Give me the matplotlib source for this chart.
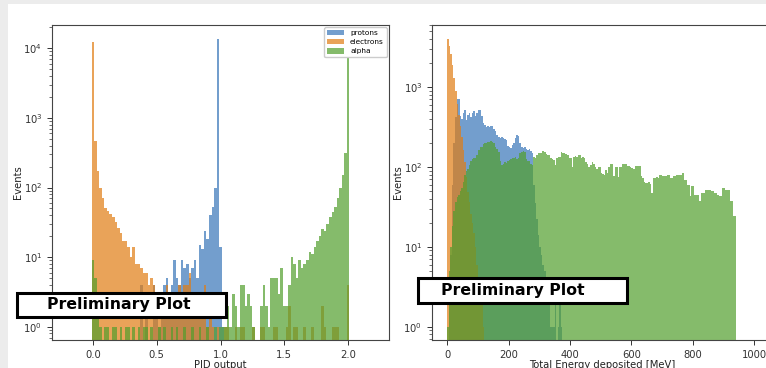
import numpy as np
import matplotlib
matplotlib.use('Agg')
import matplotlib.pyplot as plt
from matplotlib.patches import Rectangle

# ---- PID output histogram (bins of 0.02 centred on 0.00 ... 2.00) ----
PID_BIN = 0.02
protons_pid = [
    0, 0, 0, 0, 0, 0, 0, 0, 0, 0,
    0, 0, 0, 0, 0, 0, 0, 0, 0, 4,
    0, 2, 0, 0, 4, 2, 1, 3, 4, 5,
    2, 4, 9, 5, 4, 9, 7, 8, 5, 7,
    9, 5, 15, 13, 24, 18, 40, 52, 97, 13500,
    14, 1, 0, 0, 0, 0, 0, 0, 0, 0,
    0, 0, 0, 0, 0, 0, 0, 0, 0, 0,
    0, 0, 0, 0, 0, 0, 0, 0, 0, 0,
    0, 0, 0, 0, 0, 0, 0, 0, 0, 0,
    0, 0, 0, 0, 0, 0, 0, 0, 0, 0,
    0,
]
electrons_pid = [
    12400, 460, 170, 100, 70, 50, 46, 42, 38, 32,
    26, 22, 17, 17, 14, 10, 14, 8, 8, 7,
    6, 6, 4, 5, 4, 3, 2, 3, 2, 4,
    3, 3, 2, 3, 4, 3, 4, 4, 6, 3,
    3, 2, 2, 3, 4, 1, 2, 1, 0, 1,
    0, 0, 1, 1, 0, 0, 1, 0, 1, 1,
    0, 0, 0, 1, 0, 0, 1, 1, 0, 0,
    0, 1, 1, 0, 0, 0, 1, 2, 0, 1,
    1, 0, 0, 1, 0, 0, 1, 0, 0, 0,
    2, 1, 0, 0, 1, 1, 1, 0, 0, 0,
    4,
]
alpha_pid = [
    9, 5, 2, 1, 0, 1, 1, 0, 1, 1,
    0, 1, 0, 1, 1, 0, 1, 0, 1, 0,
    1, 1, 0, 1, 0, 0, 1, 0, 1, 0,
    0, 1, 0, 1, 0, 0, 1, 0, 0, 1,
    0, 0, 1, 0, 0, 1, 0, 0, 1, 0,
    1, 1, 1, 2, 1, 3, 2, 1, 4, 4,
    2, 3, 2, 1, 0, 0, 2, 4, 2, 1,
    5, 5, 5, 3, 7, 2, 2, 4, 10, 8,
    5, 9, 7, 8, 9, 12, 11, 14, 17, 20,
    25, 24, 30, 38, 45, 53, 70, 97, 150, 316,
    10000,
]

# ---- Total energy deposited histogram (5 MeV bins starting at 0) ----
E_BIN = 5.0
protons_energy = [
    0, 2, 8, 60, 200, 420, 720, 700, 440, 400,
    480, 510, 390, 450, 470, 420, 480, 500, 430, 480,
    510, 520, 430, 360, 340, 320, 330, 320, 325, 330,
    300, 280, 250, 240, 230, 240, 232, 225, 215, 185,
    180, 175, 190, 200, 230, 255, 245, 200, 180, 175,
    178, 170, 165, 168, 160, 150, 60, 35, 22, 14,
    10, 8, 6, 5, 3, 2, 2, 1, 1, 1,
    2, 0, 1, 2, 1,
]
electrons_energy = [
    4000, 3300, 2600, 1900, 1300, 900, 620, 450, 330, 240,
    165, 115, 75, 48, 36, 26, 20, 15, 10, 6,
    4, 3, 2, 1,
]
alpha_energy = [
    1, 5, 10, 18, 28, 36, 42, 45, 50, 55,
    65, 80, 90, 95, 105, 120, 125, 130, 128, 140,
    165, 178, 180, 195, 200, 198, 205, 208, 212, 205,
    200, 180, 170, 155, 120, 105, 110, 115, 112, 118,
    122, 125, 128, 130, 132, 125, 130, 150, 156, 160,
    152, 125, 120, 118, 110, 105, 135, 130, 140, 150,
    148, 150, 158, 156, 145, 140, 142, 130, 125, 123,
    106, 128, 132, 135, 156, 150, 148, 145, 140, 130,
    128, 101, 135, 138, 135, 140, 142, 130, 132, 128,
    114, 110, 101, 106, 114, 108, 101, 95, 101, 100,
    84, 82, 80, 92, 84, 101, 109, 110, 76, 101,
    101, 74, 101, 101, 109, 108, 109, 104, 104, 100,
    97, 95, 104, 104, 102, 104, 78, 72, 65, 63,
    63, 64, 62, 47, 72, 72, 74, 72, 80, 80,
    76, 76, 76, 80, 80, 72, 72, 76, 76, 80,
    80, 80, 80, 84, 69, 69, 60, 60, 43, 57,
    57, 45, 45, 45, 37, 47, 47, 47, 52, 52,
    52, 52, 50, 50, 47, 47, 45, 43, 43, 55,
    55, 52, 52, 52, 37, 37, 24, 24,
]

LABELS = ['protons', 'electrons', 'alpha']
COLORS = ['#3875b8', '#e17c13', '#529e2d']
ALPHA = 0.7


def centered_edges(n, width):
    # bins centred on 0, width, 2*width, ...
    return np.arange(n + 1) * width - width / 2


def left_edges(n, width):
    return np.arange(n + 1) * width


def style_axis(ax):
    for sp in ax.spines.values():
        sp.set_color('#444444')
        sp.set_linewidth(0.8)
    ax.tick_params(axis='both', which='major', labelsize=7.2, length=3.5,
                   width=0.7, colors='#333333')
    ax.tick_params(axis='y', which='minor', length=2, width=0.5,
                   colors='#333333')


fig = plt.figure(figsize=(7.66, 3.68), dpi=100)
fig.patch.set_facecolor('white')

W, H = 766.0, 368.0
ax1 = fig.add_axes([52 / W, 1 - 340 / H, (389 - 52) / W, (340 - 25) / H])
ax2 = fig.add_axes([432 / W, 1 - 340 / H, (772 - 432) / W, (340 - 25) / H])

# left panel: PID output
pid_series = [protons_pid, electrons_pid, alpha_pid]
for counts, lab, col in zip(pid_series, LABELS, COLORS):
    counts = np.asarray(counts, dtype=float)
    edges = centered_edges(len(counts), PID_BIN)
    centers = 0.5 * (edges[:-1] + edges[1:])
    ax1.hist(centers, bins=edges, weights=counts, color=col, alpha=ALPHA,
             label=lab, log=True)
ax1.set_xlim(-0.32, 2.32)
ax1.set_ylim(0.645, 21600)
ax1.set_xticks([0.0, 0.5, 1.0, 1.5, 2.0])
ax1.set_xlabel('PID output', fontsize=7.2, labelpad=0.5, color='#222222')
ax1.set_ylabel('Events', fontsize=7.2, labelpad=0.5, color='#222222')
style_axis(ax1)
ax1.legend(loc='upper right', fontsize=5.3, handlelength=2.3,
           borderaxespad=0.3, labelspacing=0.4, framealpha=1,
           edgecolor='#cccccc')

# right panel: total energy deposited
energy_series = [protons_energy, electrons_energy, alpha_energy]
for counts, lab, col in zip(energy_series, LABELS, COLORS):
    counts = np.asarray(counts, dtype=float)
    edges = left_edges(len(counts), E_BIN)
    centers = 0.5 * (edges[:-1] + edges[1:])
    ax2.hist(centers, bins=edges, weights=counts, color=col, alpha=ALPHA,
             label=lab, histtype='stepfilled', log=True)
ax2.set_xlim(-50, 1058)
ax2.set_ylim(0.68, 6000)
ax2.set_xticks([0, 200, 400, 600, 800, 1000])
ax2.set_xlabel('Total Energy deposited [MeV]', fontsize=7.2, labelpad=0.5,
               color='#222222')
ax2.set_ylabel('Events', fontsize=7.2, labelpad=0.5, color='#222222')
style_axis(ax2)

# screenshot frame (light grey strips at top and left)
fig.add_artist(Rectangle((0, 1 - 3.5 / H), 1, 3.5 / H, transform=fig.transFigure,
                         facecolor='#ececec', edgecolor='none', zorder=5))
fig.add_artist(Rectangle((0, 0), 8 / W, 1, transform=fig.transFigure,
                         facecolor='#ececec', edgecolor='none', zorder=5))

# "Preliminary Plot" stamps
stamps = [((17, 293, 226, 317), (119, 305)), ((418, 278, 627, 303), (513, 290.5))]
for (x0, y0, x1, y1), (tx, ty) in stamps:
    fig.add_artist(Rectangle((x0 / W, 1 - y1 / H), (x1 - x0) / W, (y1 - y0) / H,
                             transform=fig.transFigure, facecolor='white',
                             edgecolor='black', linewidth=2.2, zorder=6))
    fig.text(tx / W, 1 - ty / H, 'Preliminary Plot', ha='center', va='center',
             fontsize=11.3, fontweight='bold', color='black', zorder=7)

fig.savefig('out.png', dpi=100)
